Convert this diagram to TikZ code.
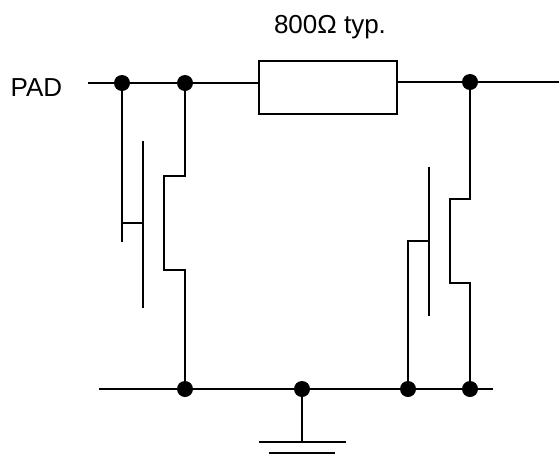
\documentclass[tikz,border=0pt]{standalone}
\usepackage{fontspec}
\setmainfont{Liberation Sans}
\tikzset{
  x=1pt,y=-1pt,
  wire/.style={draw=black,line width=2.1pt,line join=miter},
  plate/.style={draw=black,line width=1.8pt},
  ground/.style={draw=black,line width=2.6pt},
  junction/.style={circle,fill=black,draw=none,inner sep=0pt,minimum size=16pt},
  lbl/.style={inner sep=0pt,anchor=base,font=\fontsize{26}{30}\selectfont,text=black},
  box/.style={rectangle,draw=black,line width=2.1pt,fill=white,inner sep=0pt}
}
\begin{document}
\begin{tikzpicture}
\useasboundingbox[fill=white] (0,0) rectangle (559,461);
\coordinate (padend) at (88,83);
\coordinate (outend) at (559,82);
\coordinate (gl) at (99,389);
\coordinate (gr) at (493,389);
\node[box,minimum width=138pt,minimum height=53pt,anchor=center] (res) at (328,87.5) {};
\node[junction] (j1) at (122,83) {};
\node[junction] (j2) at (185,83) {};
\node[junction] (j3) at (470,82) {};
\node[junction] (b1) at (185,389) {};
\node[junction] (b2) at (302,389) {};
\node[junction] (b3) at (408,389) {};
\node[junction] (b4) at (470,389) {};
\draw[wire] (padend) -- (j1) -- (j2) -- (259,83);
\draw[wire] (397,82) -- (j3) -- (outend);
\draw[wire] (gl) -- (gr);
% left clamp
\coordinate (lend) at (122,242);
\coordinate (ltap) at (122,223);
\coordinate (lgate) at (143,223);
\draw[wire] (j1) -- (lend);
\draw[wire] (ltap) -- (lgate);
\draw[plate] (143,141) -- (143,308);
\draw[wire] (j2) |- (164,176) |- (185,270) -- (b1);
% right clamp
\draw[wire] (b3) |- (429,241);
\draw[plate] (429,167) -- (429,316);
\draw[wire] (j3) |- (450,199) |- (470,283) -- (b4);
% ground
\coordinate (g1) at (302,442);
\draw[wire] (b2) -- (g1);
\draw[ground] (259,442) -- (346,442);
\draw[ground] (269,453) -- (335,453);
\node[lbl] (pad) at (36.5,96) {PAD};
\node[lbl] (val) at (330,33) {800Ω typ.};
\end{tikzpicture}
\end{document}
